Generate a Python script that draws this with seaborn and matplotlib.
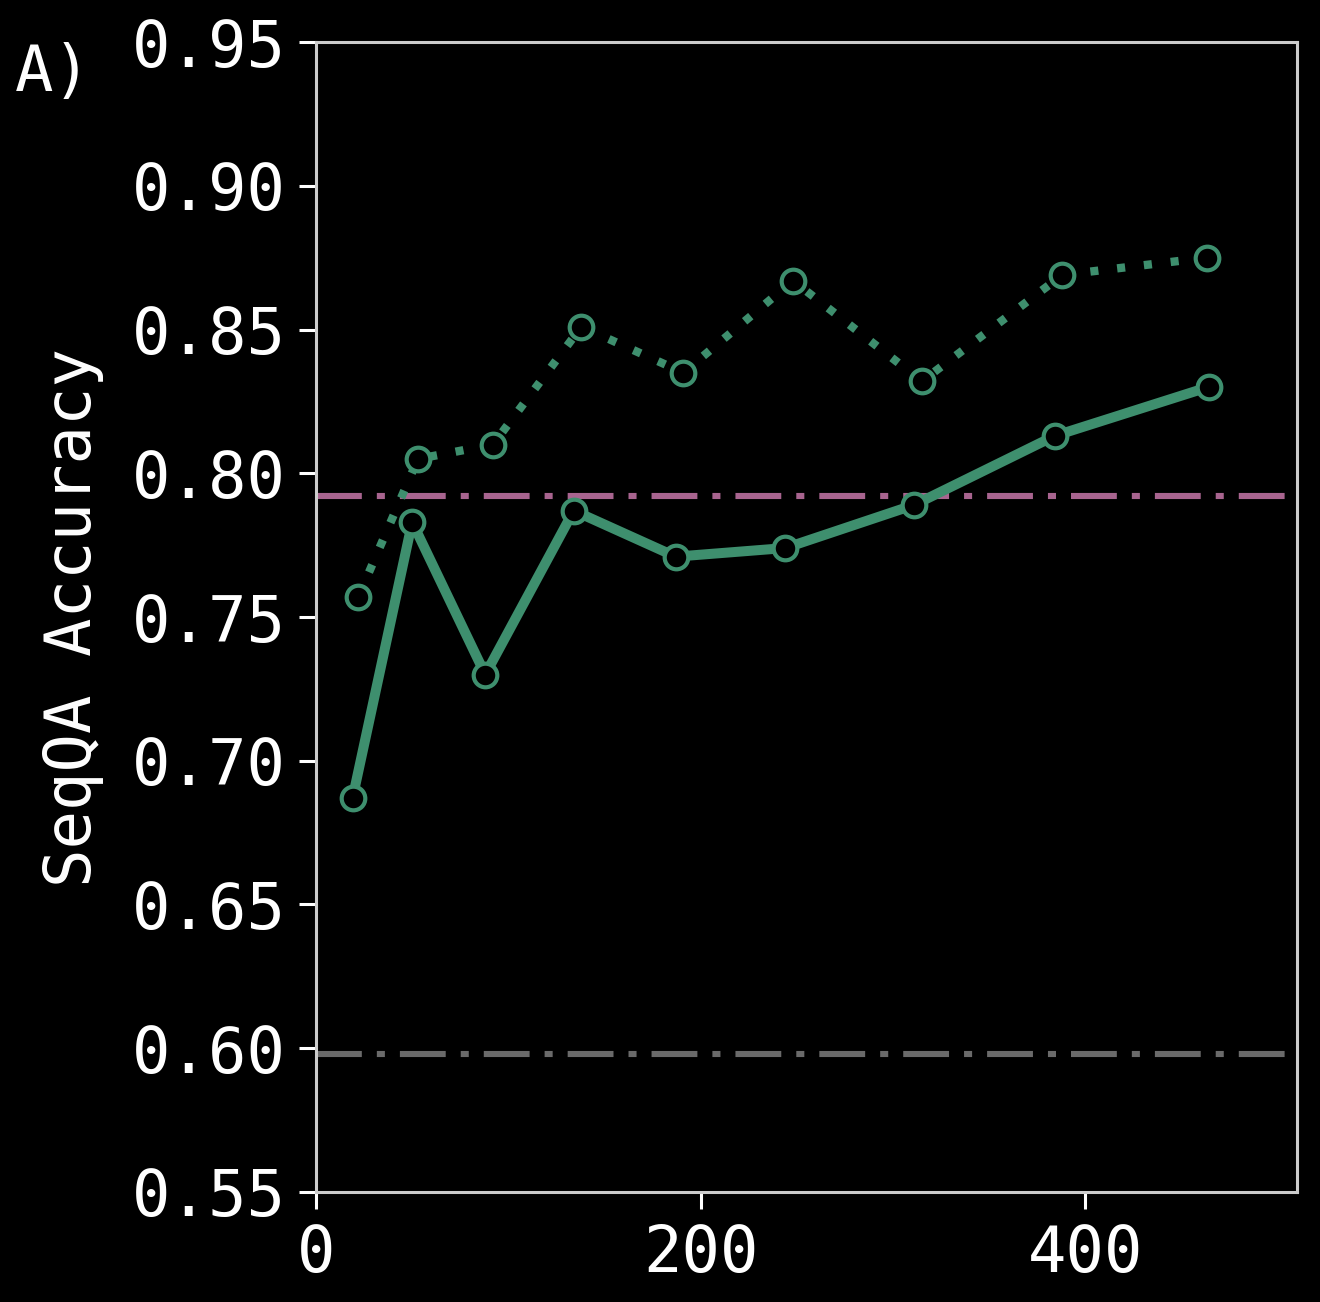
import pandas as pd
import seaborn as sns
from matplotlib import pyplot as plt

# values
x_solid = [19, 50, 88, 134, 187, 244, 311, 384, 464]
acc_solid = [0.687, 0.783, 0.730, 0.787, 0.771, 0.774, 0.789, 0.813, 0.830]
x_dotted = [22, 53, 92, 138, 191, 248, 315, 388, 463]
acc_dotted = [0.757, 0.805, 0.810, 0.851, 0.835, 0.867, 0.832, 0.869, 0.875]
ref_pink = 0.792
ref_gray = 0.598
yticks = [0.55, 0.60, 0.65, 0.70, 0.75, 0.80, 0.85, 0.90, 0.95]
xticks = [0, 200, 400]

green = '#3e8f6e'
pink = '#a8648f'
gray = '#6a6a6a'

sns.set_style('dark')
plt.rcParams.update({
    'font.family': ['DejaVu Sans Mono'],
    'figure.facecolor': 'black',
    'axes.facecolor': 'black',
    'axes.edgecolor': '#cccccc',
    'axes.linewidth': 1.1,
    'axes.grid': False,
    'text.color': 'white',
    'axes.labelcolor': 'white',
    'xtick.color': 'white',
    'ytick.color': 'white',
    'xtick.bottom': True,
    'ytick.left': True,
    'lines.scale_dashes': False,
})

df_solid = pd.DataFrame({'x': x_solid, 'acc': acc_solid})
df_dotted = pd.DataFrame({'x': x_dotted, 'acc': acc_dotted})

fig = plt.figure(figsize=(6.6, 6.51), dpi=200)
ax = fig.add_axes([0.2394, 0.0845, 0.7432, 0.8832])

ax.axhline(ref_pink, xmin=0, xmax=0.988, color=pink, lw=2.2,
           dashes=(16.5, 5.4, 2.9, 5.4))
ax.axhline(ref_gray, xmin=0, xmax=0.988, color=gray, lw=2.2,
           dashes=(16.5, 5.4, 2.9, 5.4))

sns.lineplot(data=df_dotted, x='x', y='acc', ax=ax, color=green, lw=3.0,
             marker='o', markersize=8.5, markerfacecolor='black',
             markeredgecolor=green, markeredgewidth=1.5)
ax.lines[-1].set_dashes((2.9, 6.8))
sns.lineplot(data=df_solid, x='x', y='acc', ax=ax, color=green, lw=3.6,
             marker='o', markersize=8.5, markerfacecolor='black',
             markeredgecolor=green, markeredgewidth=1.5)

ax.set_xlim(0, 510)
ax.set_ylim(0.55, 0.95)
ax.set_xticks(xticks)
ax.set_yticks(yticks)
ax.set_yticklabels([f'{v:.2f}' for v in yticks])
ax.tick_params(axis='both', labelsize=23, length=6, width=1.1, pad=5,
               colors='white')
ax.set_xlabel('')
ax.set_ylabel('SeqQA Accuracy', fontsize=23, labelpad=10)
for s in ax.spines.values():
    s.set_color('#cccccc')
    s.set_visible(True)

fig.text(0.011, 0.968, 'A)', fontsize=23, va='top', ha='left')

plt.savefig('out.png', dpi=200, facecolor='black')
plt.close()
